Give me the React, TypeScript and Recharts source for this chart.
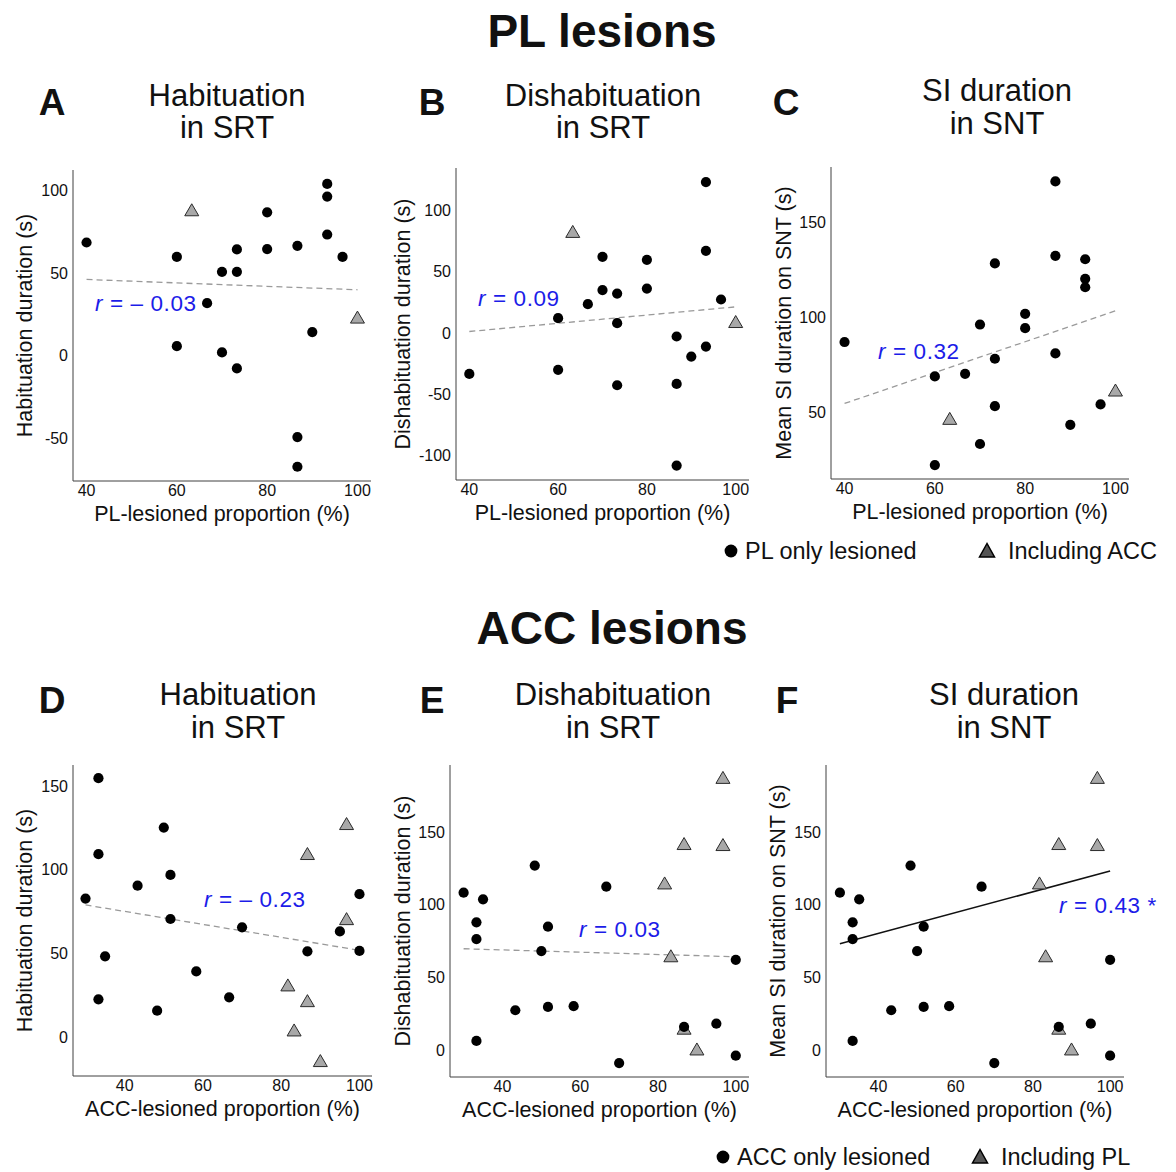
import { ScatterChart, Scatter, XAxis, YAxis, ReferenceLine } from 'recharts';

const FONT = "'Liberation Sans', Arial, Helvetica, sans-serif";
const BLUE = '#1c1ce8';
const AXIS = '#404040';

type Pt = [number, number];

// PL lesions: [PL-lesioned proportion %, duration s]
const plHabOnly: Pt[] = [
  [40, 68.3], [60, 59.6], [60, 5.8], [66.7, 31.7], [70, 50.6], [70, 2.0], [73.3, 64.1], [73.3, 50.6],
  [73.3, -7.6], [80, 86.5], [80, 64.3], [86.7, 66.3], [86.7, -49], [86.7, -66.9], [90, 14.3],
  [93.3, 103.6], [93.3, 96], [93.3, 73.1], [96.7, 59.6],
];
const plHabIncl: Pt[] = [[63.3, 87.6], [100, 22.9]];
const plHabFit: Pt[] = [[40, 46], [100, 39.8]];

const plDisOnly: Pt[] = [
  [40, -33.6], [60, 12], [60, -30.3], [66.7, 23.5], [70, 62.3], [70, 35], [73.3, 32.2], [73.3, 7.9],
  [73.3, -42.9], [80, 59.8], [80, 36.3], [86.7, -3], [86.7, -41.8], [86.7, -108.7], [90, -19.4],
  [93.3, 123.5], [93.3, 67.2], [93.3, -11.2], [96.7, 27.3],
];
const plDisIncl: Pt[] = [[63.3, 82.5], [100, 8.7]];
const plDisFit: Pt[] = [[40, 1.1], [100, 21.3]];

const plSiOnly: Pt[] = [
  [40, 87], [60, 68.9], [60, 22.3], [66.7, 70.3], [70, 96.2], [70, 33.4], [73.3, 128.3], [73.3, 78.2],
  [73.3, 53.3], [80, 101.8], [80, 94.3], [86.7, 171.4], [86.7, 132.3], [86.7, 81], [90, 43.5],
  [93.3, 130.5], [93.3, 120.2], [93.3, 115.8], [96.7, 54.2],
];
const plSiIncl: Pt[] = [[63.3, 46.5], [100, 61.4]];
const plSiFit: Pt[] = [[40, 54.7], [100, 103.4]];

// ACC lesions: [ACC-lesioned proportion %, duration s]
const accHabOnly: Pt[] = [
  [30, 82.7], [33.3, 154.6], [33.3, 109.2], [33.3, 22.5], [35, 48.2], [43.3, 90.4], [48.3, 15.7],
  [50, 125.1], [51.7, 96.8], [51.7, 70.5], [58.3, 39.2], [66.7, 23.7], [70, 65.5], [86.7, 51.2],
  [95, 63.1], [100, 85.3], [100, 51.4],
];
const accHabIncl: Pt[] = [[96.7, 127.1], [86.7, 109.2], [96.7, 70.3], [81.7, 30.7], [86.7, 21.3], [83.3, 3.8], [90, -14.5]];
const accHabFit: Pt[] = [[30, 78.9], [100, 51.8]];

const accDisOnly: Pt[] = [
  [30, 108.2], [33.3, 87.8], [33.3, 76.3], [33.3, 6.2], [35, 103.6], [43.3, 27.3], [48.3, 126.8],
  [50, 68], [51.7, 84.8], [51.7, 29.6], [58.3, 30.1], [66.7, 112.3], [70, -9], [86.7, 15.9],
  [95, 18.1], [100, 62], [100, -3.9],
];
const accDisIncl: Pt[] = [[96.7, 187], [86.7, 141.5], [96.7, 140.8], [81.7, 114.4], [83.3, 64.3], [86.7, 14.5], [90, 0.2]];
const accDisFit: Pt[] = [[30, 69.6], [100, 64.1]];

const accSiOnly: Pt[] = accDisOnly;
const accSiIncl: Pt[] = accDisIncl;
const accSiFit: Pt[] = [[30, 73], [100, 123.1]];

const pctTicks = [40, 60, 80, 100];

const toObj = (pts: Pt[]) => pts.map(([x, y]) => ({ x, y }));

function Dot(props: any) {
  const { cx, cy } = props;
  if (cx == null || cy == null) return null;
  return <circle cx={cx} cy={cy} r={5.1} fill="#000" />;
}

function Tri(props: any) {
  const { cx, cy } = props;
  if (cx == null || cy == null) return null;
  return (
    <polygon
      points={`${cx},${cy - 6.7} ${cx - 7},${cy + 5.3} ${cx + 7},${cy + 5.3}`}
      fill="#a8a8a8" stroke="#2a2a2a" strokeWidth={1}
    />
  );
}

const Y_W = 70;
const M_TOP = 10;
const M_RIGHT = 12;
const X_H = 50;

type PanelProps = {
  box: { left: number; top: number; right: number; bottom: number };
  xDomain: [number, number];
  yDomain: [number, number];
  yTicks: number[];
  xLabel: string;
  yLabel: string;
  yLabelX: number;
  only: Pt[];
  incl: Pt[];
  fit: Pt[];
  solid?: boolean;
};

function Panel({ box, xDomain, yDomain, yTicks, xLabel, yLabel, yLabelX, only, incl, fit, solid }: PanelProps) {
  const plotW = box.right - box.left;
  const plotH = box.bottom - box.top;
  const chartLeft = box.left - Y_W;
  return (
    <div style={{ position: 'absolute', left: chartLeft, top: box.top - M_TOP }}>
      <ScatterChart
        width={plotW + Y_W + M_RIGHT}
        height={plotH + M_TOP + X_H}
        margin={{ top: M_TOP, right: M_RIGHT, bottom: 0, left: 0 }}
        style={{ overflow: 'visible' }}
      >
        <XAxis
          type="number" dataKey="x" domain={xDomain} ticks={pctTicks} interval={0} allowDataOverflow
          height={X_H} tickLine={false} tickSize={0} tickMargin={4}
          axisLine={{ stroke: AXIS, strokeWidth: 1 }}
          tick={{ fontSize: 16, fill: '#111', fontFamily: FONT }}
          label={{ value: xLabel, position: 'insideBottom', offset: X_H - 40, style: { fontSize: 21.5, fill: '#111', fontFamily: FONT } }}
        />
        <YAxis
          type="number" dataKey="y" domain={yDomain} ticks={yTicks} interval={0} allowDataOverflow
          width={Y_W} tickLine={false} tickSize={0} tickMargin={5}
          axisLine={{ stroke: AXIS, strokeWidth: 1 }}
          tick={{ fontSize: 16, fill: '#111', fontFamily: FONT }}
          label={{ value: yLabel, angle: -90, position: 'insideLeft', offset: yLabelX - chartLeft, style: { textAnchor: 'middle', fontSize: 21.5, fill: '#111', fontFamily: FONT } }}
        />
        <ReferenceLine
          segment={fit.map(([x, y]) => ({ x, y }))}
          stroke={solid ? '#111' : '#9a9a9a'}
          strokeWidth={solid ? 1.5 : 1.3}
          strokeDasharray={solid ? undefined : '6 4'}
          ifOverflow="visible"
        />
        <Scatter data={toObj(incl)} shape={Tri} isAnimationActive={false} />
        <Scatter data={toObj(only)} shape={Dot} isAnimationActive={false} />
      </ScatterChart>
    </div>
  );
}

function RLabel({ x, y, value }: { x: number; y: number; value: string }) {
  return (
    <text x={x} y={y} fontSize={22.5} letterSpacing={0.6} fill={BLUE} fontFamily={FONT}>
      <tspan fontStyle="italic">r</tspan>
      {value}
    </text>
  );
}

function Title({ x, y1, y2, l1, l2 }: { x: number; y1: number; y2: number; l1: string; l2: string }) {
  return (
    <g fontSize={31} fill="#111" fontFamily={FONT} textAnchor="middle">
      <text x={x} y={y1}>{l1}</text>
      <text x={x} y={y2}>{l2}</text>
    </g>
  );
}

function Letter({ x, y, c }: { x: number; y: number; c: string }) {
  return (
    <text x={x} y={y} fontSize={37} fontWeight="bold" fill="#111" fontFamily={FONT} textAnchor="middle">{c}</text>
  );
}

function LegendRow({ cx, tx, cy, label1, label2 }: { cx: number; tx: number; cy: number; label1: string; label2: string }) {
  return (
    <g fontFamily={FONT} fontSize={23.5} fill="#111">
      <circle cx={cx} cy={cy} r={6.4} fill="#000" />
      <text x={cx + 14} y={cy + 8}>{label1}</text>
      <polygon points={`${tx},${cy - 7.5} ${tx - 7.5},${cy + 6} ${tx + 7.5},${cy + 6}`} fill="#555" stroke="#000" strokeWidth={1.5} />
      <text x={tx + 21} y={cy + 8}>{label2}</text>
    </g>
  );
}

export default function App() {
  return (
    <div style={{ position: 'absolute', left: 0, top: 0, width: 1176, height: 1172, background: '#fff', overflow: 'hidden' }}>
      <Panel
        box={{ left: 73, top: 170, right: 371, bottom: 481 }}
        xDomain={[37, 103]} yDomain={[-75.5, 112]} yTicks={[-50, 0, 50, 100]}
        xLabel="PL-lesioned proportion (%)" yLabel="Habituation duration (s)" yLabelX={24}
        only={plHabOnly} incl={plHabIncl} fit={plHabFit}
      />
      <Panel
        box={{ left: 456, top: 168, right: 749, bottom: 480 }}
        xDomain={[37, 103]} yDomain={[-120.5, 135]} yTicks={[-100, -50, 0, 50, 100]}
        xLabel="PL-lesioned proportion (%)" yLabel="Dishabituation duration (s)" yLabelX={402}
        only={plDisOnly} incl={plDisIncl} fit={plDisFit}
      />
      <Panel
        box={{ left: 831, top: 167, right: 1129, bottom: 479 }}
        xDomain={[37, 103]} yDomain={[15, 179]} yTicks={[50, 100, 150]}
        xLabel="PL-lesioned proportion (%)" yLabel="Mean SI duration on SNT (s)" yLabelX={783}
        only={plSiOnly} incl={plSiIncl} fit={plSiFit}
      />
      <Panel
        box={{ left: 73, top: 765, right: 372, bottom: 1076 }}
        xDomain={[26.8, 103.2]} yDomain={[-23.3, 162.5]} yTicks={[0, 50, 100, 150]}
        xLabel="ACC-lesioned proportion (%)" yLabel="Habituation duration (s)" yLabelX={24}
        only={accHabOnly} incl={accHabIncl} fit={accHabFit}
      />
      <Panel
        box={{ left: 450, top: 765, right: 749, bottom: 1077 }}
        xDomain={[26.5, 103.4]} yDomain={[-18.6, 196]} yTicks={[0, 50, 100, 150]}
        xLabel="ACC-lesioned proportion (%)" yLabel="Dishabituation duration (s)" yLabelX={402}
        only={accDisOnly} incl={accDisIncl} fit={accDisFit}
      />
      <Panel
        box={{ left: 826, top: 765, right: 1124, bottom: 1077 }}
        xDomain={[26.4, 103.6]} yDomain={[-18.6, 196]} yTicks={[0, 50, 100, 150]}
        xLabel="ACC-lesioned proportion (%)" yLabel="Mean SI duration on SNT (s)" yLabelX={777}
        only={accSiOnly} incl={accSiIncl} fit={accSiFit} solid
      />

      <svg width={1176} height={1172} style={{ position: 'absolute', left: 0, top: 0, pointerEvents: 'none' }}>
        <text x={602} y={47} fontSize={46} fontWeight="bold" fill="#111" fontFamily={FONT} textAnchor="middle">PL lesions</text>
        <text x={612} y={644} fontSize={46} fontWeight="bold" fill="#111" fontFamily={FONT} textAnchor="middle">ACC lesions</text>

        <Letter x={52} y={115} c="A" />
        <Letter x={432} y={115} c="B" />
        <Letter x={786} y={115} c="C" />
        <Letter x={52} y={713} c="D" />
        <Letter x={432} y={713} c="E" />
        <Letter x={787} y={713} c="F" />

        <Title x={227} y1={106} y2={138} l1="Habituation" l2="in SRT" />
        <Title x={603} y1={106} y2={138} l1="Dishabituation" l2="in SRT" />
        <Title x={997} y1={101} y2={134} l1="SI duration" l2="in SNT" />
        <Title x={238} y1={705} y2={738} l1="Habituation" l2="in SRT" />
        <Title x={613} y1={705} y2={738} l1="Dishabituation" l2="in SRT" />
        <Title x={1004} y1={705} y2={738} l1="SI duration" l2="in SNT" />

        <RLabel x={95} y={311} value=" = – 0.03" />
        <RLabel x={478} y={306} value=" = 0.09" />
        <RLabel x={878} y={359} value=" = 0.32" />
        <RLabel x={204} y={907} value=" = – 0.23" />
        <RLabel x={579} y={937} value=" = 0.03" />
        <RLabel x={1059} y={913} value=" = 0.43 *" />

        <LegendRow cx={731} tx={987} cy={551} label1="PL only lesioned" label2="Including ACC" />
        <LegendRow cx={723} tx={980} cy={1157} label1="ACC only lesioned" label2="Including PL" />
      </svg>
    </div>
  );
}
